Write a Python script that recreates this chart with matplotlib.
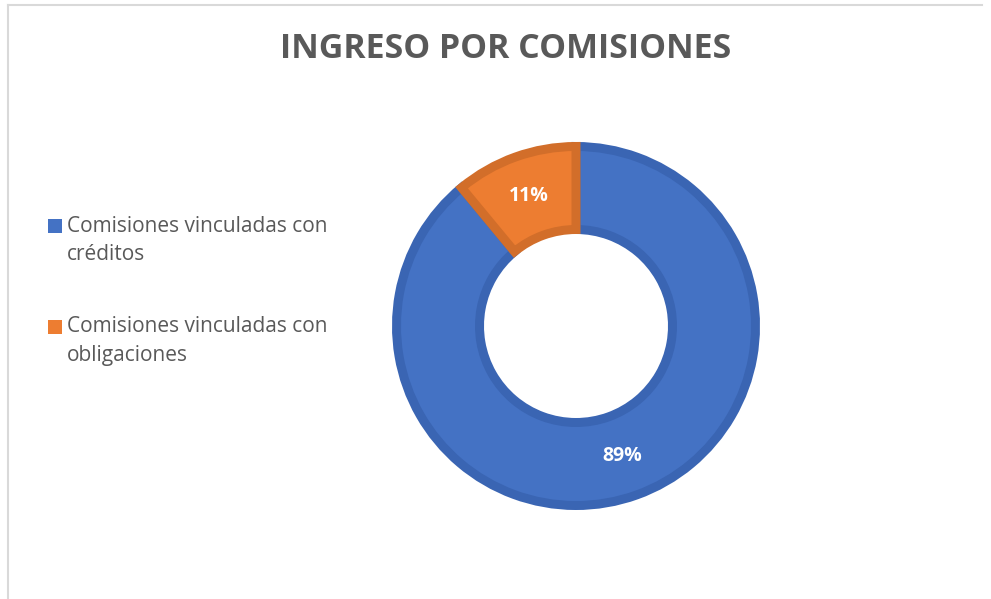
import matplotlib
matplotlib.use("Agg")
import matplotlib.pyplot as plt
from matplotlib.lines import Line2D
from matplotlib.patches import Rectangle
import numpy as np

labels = ["Comisiones vinculadas con\ncréditos", "Comisiones vinculadas con\nobligaciones"]
values = [89, 11]
pct_labels = ["89%", "11%"]
colors = ["#4472C4", "#ED7D31"]
edges = ["#3A65B3", "#D26E2A"]

W, H = 991, 599
fig = plt.figure(figsize=(W / 100, H / 100), dpi=100)
fig.patch.set_facecolor("white")

# light frame (top and left edges only visible)
fig.add_artist(Line2D([7.5 / W, 982 / W], [1 - 4.5 / H, 1 - 4.5 / H],
                      color="#D9D9D9", lw=1.5, transform=fig.transFigure))
fig.add_artist(Line2D([7.5 / W, 7.5 / W], [1 - 4.5 / H, 0],
                      color="#D9D9D9", lw=1.5, transform=fig.transFigure))

fig.text(506 / W, 1 - 49 / H, "INGRESO POR COMISIONES", ha="center", va="center",
         fontsize=24.4, fontweight="bold", color="#595959", family="Open Sans")

# donut: center (576, 326), outer radius 184 px
cx, cy, R = 576, 326, 184
ax = fig.add_axes([(cx - R) / W, (H - cy - R) / H, 2 * R / W, 2 * R / H])

lw_px = 9
shrink = (lw_px / 2) / R
wedges, _ = ax.pie(values, colors=colors, startangle=90, counterclock=False,
                   radius=1 - shrink,
                   wedgeprops=dict(width=0.5 - 2 * shrink, linewidth=lw_px * 0.72,
                                   joinstyle="miter"))
for w, ec in zip(wedges, edges):
    w.set_edgecolor(ec)
ax.set_xlim(-1, 1)
ax.set_ylim(-1, 1)
ax.set_aspect("equal")
ax.axis("off")

start = 90.0
total = sum(values)
for v, t in zip(values, pct_labels):
    ang = start - v / total * 360 / 2
    start -= v / total * 360
    r = 0.75
    ax.text(r * np.cos(np.radians(ang)), r * np.sin(np.radians(ang)), t,
            ha="center", va="center", fontsize=14, fontweight="bold",
            color="white", family="Open Sans")

# legend, drawn by hand so the swatch sits on the first line
item_y = [226, 327]
line_gap = 28.5
for lab, c, y0 in zip(labels, colors, item_y):
    fig.add_artist(Rectangle((48 / W, 1 - (y0 + 7) / H), 14 / W, 14 / H,
                             facecolor=c, edgecolor="none", transform=fig.transFigure))
    for i, line in enumerate(lab.split("\n")):
        fig.text(67 / W, 1 - (y0 + i * line_gap) / H, line, ha="left", va="center",
                 fontsize=15, color="#595959", family="Open Sans")

fig.savefig("out.png", dpi=100, facecolor="white")
